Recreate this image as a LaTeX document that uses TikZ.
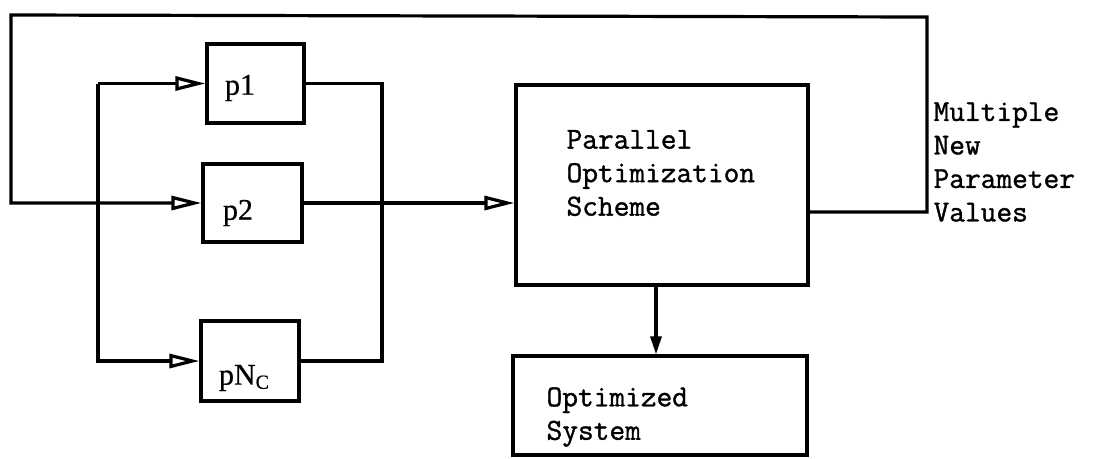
\documentclass[tikz,border=0pt]{standalone}
\usepackage{fontspec}
\setmonofont[FakeBold=1.2]{Latin Modern Mono}
\newfontfamily\tserif[FakeBold=0.6]{Liberation Serif}
\usetikzlibrary{arrows.meta}
\begin{document}
\begin{tikzpicture}[x=1pt,y=-1pt,line width=3.2pt,
  box/.style={draw,rectangle,inner sep=0pt},
  twtext/.style={font=\ttfamily\fontsize{30.5}{33.5}\selectfont,align=left,inner sep=0pt,anchor=west},
  plabel/.style={font=\tserif\fontsize{30}{32}\selectfont,inner sep=0pt},
  openarr/.style={-{Triangle[open,length=30pt,width=14pt]}},
  fillarr/.style={-{Triangle[length=18pt,width=11pt]}}]
\useasboundingbox (0,0) rectangle (1097,458);
% boxes
\node[box,minimum width=97pt,minimum height=79pt] (p1) at (255.5,83.5) {};
\node[box,minimum width=99pt,minimum height=78pt] (p2) at (252.5,203) {};
\node[box,minimum width=98pt,minimum height=80pt] (pN) at (250,361) {};
\node[box,minimum width=292pt,minimum height=200pt] (pos) at (662,185) {};
\node[box,minimum width=294pt,minimum height=99pt] (opt) at (660,405.5) {};
% texts
\node[plabel] (p1t) at (240,88) {p1};
\node[plabel] (p2t) at (238,213) {p2};
\node[plabel] (pNt) at (244,378) {pN\raisebox{-0.3ex}{\fontsize{20}{22}\selectfont C}};
\node[twtext] (post) at (565,173) {Parallel\\Optimization\\Scheme};
\node[twtext] (optt) at (545,417) {Optimized\\System};
\node[twtext] (fbt) at (932,162) {Multiple\\New\\Parameter\\Values};
% coordinates
\coordinate (busT) at (98,83.5);
\coordinate (busB) at (98,361);
\coordinate (colT) at (382,83.5);
\coordinate (colB) at (382,361);
\coordinate (fbR) at (927,17);
\coordinate (fbL) at (11,15);
% input bus
\draw[openarr] (busT) -- (p1.west);
\draw[openarr] (busT) -- (busB) -- (pN.west);
% output collection
\draw (p1.east) -- (colT) -- (colB) -- (pN.east);
\draw[openarr] (p2.east) -- (p2.east -| pos.west);
% feedback
\draw[openarr] ([yshift=-27pt]pos.east) -| (fbR) -- (fbL) |- (p2.west);
% to optimized system
\draw[fillarr] ([xshift=-6pt]pos.south) -- ([xshift=-6pt]pos.south |- opt.north);
\end{tikzpicture}
\end{document}
